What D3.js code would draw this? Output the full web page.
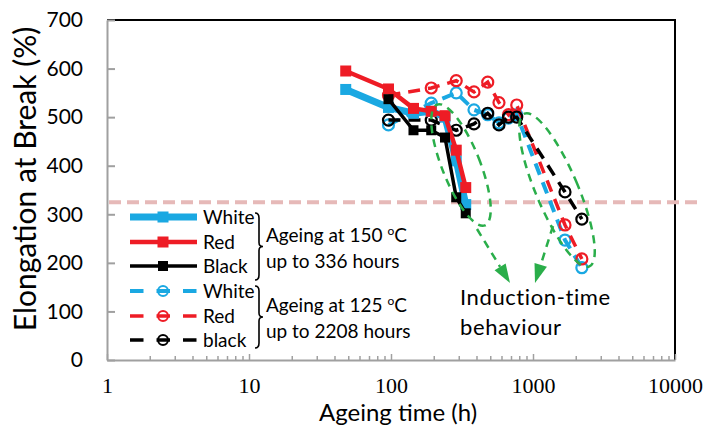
<!DOCTYPE html>
<html>
<head>
<meta charset="utf-8">
<script src="https://cdn.jsdelivr.net/npm/d3@7"></script>
<style>
  body { margin: 0; background: #fff; }
  svg { display: block; }
</style>
</head>
<body>
<div id="chart"></div>
<script>
// ageing at 150 C, up to 336 h
var hours150 = [48, 96, 144, 192, 240, 288, 336];
var white150 = [557, 520, 508, 512, 500, 410, 320];
var red150   = [595, 558, 518, 512, 503, 432, 355];
var black150 = [null, 537, 473, 473, 458, 335, 302];

// ageing at 125 C, up to 2208 h
var hours125 = [96, 192, 288, 384, 480, 576, 672, 768, 1680, 2208];
var white125 = [484, 529, 550, 515, 505, 488, 498, 505, 247, 190];
var red125   = [545, 560, 575, 552, 572, 530, 505, 525, 278, 208];
var black125 = [494, 494, 473, 486, 508, 484, 500, 500, 346, 290];

var yTicks = [0, 100, 200, 300, 400, 500, 600, 700];
var xTicks = [1, 10, 100, 1000, 10000];
var threshold = 325;

var legendNames = ["White", "Red", "Black", "White", "Red", "black"];
var groupText = [["Ageing at 150 ", "C", "up to 336 hours"], ["Ageing at 125 ", "C", "up to 2208 hours"]];

var width = 710;
var height = 427;
var sans = "Lato, 'Open Sans', sans-serif";
var serif = "'Liberation Serif', 'DejaVu Serif', serif";

var colBlue = "#1aa8e2";
var colRed = "#ee1c25";
var colBlack = "#000000";
var colGreen = "#2aae4a";

window.onload = function() {
  var svg = d3.select("#chart")
    .append("svg")
    .attr("width", width)
    .attr("height", height);

  var x = d3.scaleLog().domain([1, 10000]).range([107, 675]);
  var y = d3.scaleLinear().domain([0, 700]).range([360, 20]);

  // frame (top and right are black)
  svg.append("path")
    .attr("d", "M" + x(1) + "," + y(700) + "H" + x(10000) + "V" + y(0))
    .attr("fill", "none")
    .attr("stroke", "#000")
    .attr("stroke-width", 2);

  // y axis
  var yAxis = svg.append("g")
    .attr("transform", "translate(" + x(1) + ",0)")
    .call(d3.axisLeft(y).tickValues(yTicks).tickSize(-8).tickPadding(24).tickSizeOuter(0));
  yAxis.select(".domain").attr("stroke", "#a0a0a0").attr("stroke-width", 2);
  yAxis.selectAll(".tick line").attr("stroke", "#a0a0a0").attr("stroke-width", 2);
  yAxis.selectAll("text")
    .attr("font-family", sans)
    .attr("font-size", 21)
    .attr("fill", "#000");

  // x axis, minor ticks first
  var minor = [];
  for (var p = 1; p < 10000; p *= 10) {
    for (var k = 2; k <= 9; k++) minor.push(p * k);
  }
  svg.append("g")
    .attr("transform", "translate(0," + y(0) + ")")
    .call(d3.axisBottom(x).tickValues(minor).tickSize(-4).tickFormat(""))
    .call(function(g) {
      g.select(".domain").remove();
      g.selectAll(".tick line").attr("stroke", "#a0a0a0").attr("stroke-width", 1.5);
    });

  var xAxis = svg.append("g")
    .attr("transform", "translate(0," + y(0) + ")")
    .call(d3.axisBottom(x).tickValues(xTicks).tickSize(-6).tickPadding(17).tickSizeOuter(0).tickFormat(d3.format("d")));
  xAxis.select(".domain").attr("stroke", "#a0a0a0").attr("stroke-width", 2);
  xAxis.selectAll(".tick line").attr("stroke", "#a0a0a0").attr("stroke-width", 1.5);
  xAxis.selectAll("text")
    .attr("font-family", serif)
    .attr("font-size", 22)
    .attr("fill", "#000");

  // axis titles
  svg.append("text")
    .attr("transform", "translate(36,179) rotate(-90)")
    .attr("text-anchor", "middle")
    .attr("font-family", sans)
    .attr("font-size", 30)
    .text("Elongation at Break (%)");

  svg.append("text")
    .attr("x", 398)
    .attr("y", 421)
    .attr("text-anchor", "middle")
    .attr("font-family", sans)
    .attr("font-size", 24)
    .text("Ageing time (h)");

  // threshold line
  svg.append("line")
    .attr("x1", 109)
    .attr("x2", 697)
    .attr("y1", y(threshold))
    .attr("y2", y(threshold))
    .attr("stroke", "#e6b9b8")
    .attr("stroke-width", 4)
    .attr("stroke-dasharray", "12,6");

  var line = d3.line()
    .defined(function(d) { return d[1] != null; })
    .x(function(d) { return x(d[0]); })
    .y(function(d) { return y(d[1]); });

  var dashed = [
    { vals: white125, color: colBlue, w: 4 },
    { vals: red125, color: colRed, w: 3.5 },
    { vals: black125, color: colBlack, w: 3.5 }
  ];
  var solid = [
    { vals: white150, color: colBlue, w: 7, s: 11 },
    { vals: red150, color: colRed, w: 4.5, s: 11 },
    { vals: black150, color: colBlack, w: 3.5, s: 10 }
  ];

  dashed.forEach(function(ser) {
    var pts = hours125.map(function(h, i) { return [h, ser.vals[i]]; });
    svg.append("path")
      .attr("d", line(pts))
      .attr("fill", "none")
      .attr("stroke", ser.color)
      .attr("stroke-width", ser.w)
      .attr("stroke-dasharray", "12,8");
    svg.selectAll(null)
      .data(pts)
      .enter()
      .append("circle")
      .attr("cx", function(d) { return x(d[0]); })
      .attr("cy", function(d) { return y(d[1]); })
      .attr("r", 5.5)
      .attr("fill", "none")
      .attr("stroke", ser.color)
      .attr("stroke-width", 2.2);
  });

  solid.forEach(function(ser) {
    var pts = hours150.map(function(h, i) { return [h, ser.vals[i]]; })
      .filter(function(d) { return d[1] != null; });
    svg.append("path")
      .attr("d", line(pts))
      .attr("fill", "none")
      .attr("stroke", ser.color)
      .attr("stroke-width", ser.w)
      .attr("stroke-linejoin", "round");
    svg.selectAll(null)
      .data(pts)
      .enter()
      .append("rect")
      .attr("x", function(d) { return x(d[0]) - ser.s / 2; })
      .attr("y", function(d) { return y(d[1]) - ser.s / 2; })
      .attr("width", ser.s)
      .attr("height", ser.s)
      .attr("fill", ser.color);
  });

  // induction-time ellipses
  var ellipses = [
    { cx: 461, cy: 165, rx: 19, ry: 65, rot: -21.6 },
    { cx: 557, cy: 190, rx: 21, ry: 83, rot: -23 }
  ];
  ellipses.forEach(function(e) {
    svg.append("ellipse")
      .attr("transform", "translate(" + e.cx + "," + e.cy + ") rotate(" + e.rot + ")")
      .attr("rx", e.rx)
      .attr("ry", e.ry)
      .attr("fill", "none")
      .attr("stroke", colGreen)
      .attr("stroke-width", 2.5)
      .attr("stroke-dasharray", "8,6");
  });

  // arrows
  var arrows = [[477, 229, 510, 283], [553, 226, 535, 283]];
  arrows.forEach(function(a) {
    var dx = a[2] - a[0], dy = a[3] - a[1];
    var len = Math.sqrt(dx * dx + dy * dy);
    var ux = dx / len, uy = dy / len;
    var bx = a[2] - ux * 19, by = a[3] - uy * 19;
    svg.append("line")
      .attr("x1", a[0]).attr("y1", a[1])
      .attr("x2", bx).attr("y2", by)
      .attr("stroke", colGreen)
      .attr("stroke-width", 2.5)
      .attr("stroke-dasharray", "8,6");
    svg.append("path")
      .attr("d", "M" + a[2] + "," + a[3] +
        "L" + (bx - uy * 6.5) + "," + (by + ux * 6.5) +
        "L" + (bx + uy * 6.5) + "," + (by - ux * 6.5) + "Z")
      .attr("fill", colGreen);
  });

  svg.append("text")
    .attr("font-family", sans)
    .attr("font-size", 22)
    .attr("letter-spacing", 0.6)
    .selectAll("tspan")
    .data(["Induction-time", "behaviour"])
    .enter()
    .append("tspan")
    .attr("x", 460)
    .attr("y", function(d, i) { return 305 + i * 30; })
    .text(function(d) { return d; });

  // legend
  var rows = [217, 242, 266, 291, 316, 340];
  var legendSeries = solid.concat(dashed);
  var legend = svg.append("g");
  legendSeries.forEach(function(ser, i) {
    var ly = rows[i];
    if (i < 3) {
      legend.append("line")
        .attr("x1", 130).attr("x2", 197)
        .attr("y1", ly).attr("y2", ly)
        .attr("stroke", ser.color)
        .attr("stroke-width", ser.w);
      legend.append("rect")
        .attr("x", 163 - ser.s / 2).attr("y", ly - ser.s / 2)
        .attr("width", ser.s).attr("height", ser.s)
        .attr("fill", ser.color);
    } else {
      legend.append("line")
        .attr("x1", 130).attr("x2", 197)
        .attr("y1", ly).attr("y2", ly)
        .attr("stroke", ser.color)
        .attr("stroke-width", ser.w)
        .attr("stroke-dasharray", "13.5,13");
      legend.append("circle")
        .attr("cx", 163).attr("cy", ly)
        .attr("r", 5)
        .attr("fill", "none")
        .attr("stroke", ser.color)
        .attr("stroke-width", 2);
    }
    legend.append("text")
      .attr("x", 203)
      .attr("y", ly)
      .attr("dy", "0.35em")
      .attr("font-family", sans)
      .attr("font-size", 19)
      .text(legendNames[i]);
  });

  // braces + group labels
  var braces = [[213, 280], [286, 348]];
  braces.forEach(function(b, i) {
    var x0 = 255, y1 = b[0], y2 = b[1], ym = (y1 + y2) / 2;
    legend.append("path")
      .attr("d", "M" + x0 + "," + y1 +
        "Q" + (x0 + 4) + "," + y1 + " " + (x0 + 4) + "," + (y1 + 5) +
        "L" + (x0 + 4) + "," + (ym - 4) +
        "Q" + (x0 + 4) + "," + ym + " " + (x0 + 8) + "," + ym +
        "Q" + (x0 + 4) + "," + ym + " " + (x0 + 4) + "," + (ym + 4) +
        "L" + (x0 + 4) + "," + (y2 - 5) +
        "Q" + (x0 + 4) + "," + y2 + " " + x0 + "," + y2)
      .attr("fill", "none")
      .attr("stroke", "#000")
      .attr("stroke-width", 1.6);

    var t = legend.append("text")
      .attr("font-family", sans)
      .attr("font-size", 19);
    var line1 = t.append("tspan").attr("x", 266).attr("y", ym - 5);
    line1.append("tspan").text(groupText[i][0]);
    line1.append("tspan").attr("font-size", 12).attr("dy", -7).text("o");
    line1.append("tspan").attr("dy", 7).text(groupText[i][1]);
    t.append("tspan").attr("x", 266).attr("y", ym + 21).text(groupText[i][2]);
  });
};
</script>
</body>
</html>
